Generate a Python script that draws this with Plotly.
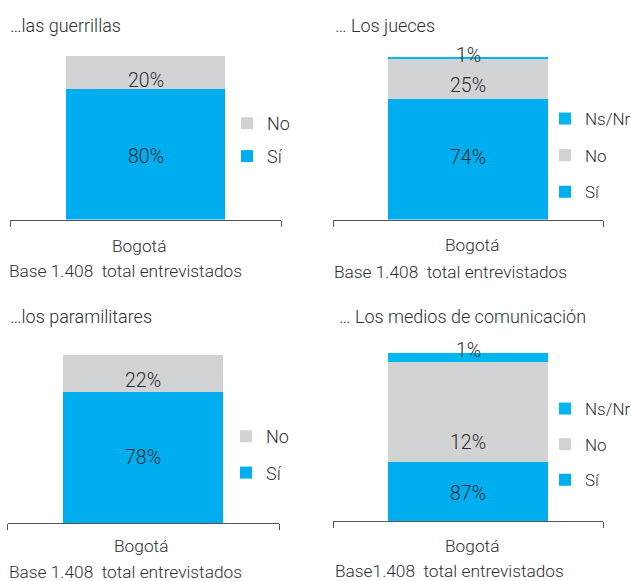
import plotly.graph_objects as go

# ---------------- data ----------------
categories = ["Bogotá"]
series_names = ["Sí", "No", "Ns/Nr"]

guerrillas_si = [80]
guerrillas_no = [20]

jueces_si = [74]
jueces_no = [25]
jueces_nsnr = [1]

paramilitares_si = [78]
paramilitares_no = [22]

# bar heights as drawn in the picture, and the printed labels
medios_si = [35]
medios_no = [59.5]
medios_nsnr = [5.5]
medios_labels = ["87%", "12%", "1%"]

titles = ["…las guerrillas", "… Los jueces", "…los paramilitares", "… Los medios de comunicación"]
base_texts = ["Base 1.408  total entrevistados", "Base 1.408  total entrevistados",
              "Base 1.408  total entrevistados", "Base1.408  total entrevistados"]

# ---------------- style ----------------
W, H = 631, 581
BLUE = "#00ADEE"
BLUE2 = "#00B7F0"
GRAY = "#D1D3D4"
TXT = "#2e2e2e"
AXC = "#555555"
FONT = "Roboto, 'Liberation Sans', Arial, sans-serif"
FS_TITLE = 18
FS_CAP = 17.3
FS_PCT = 19.5
WEIGHT = 300


def fx(px):
    return px / W


def fy(py):
    return 1 - py / H


def clamp(v):
    return min(1.0, max(0.0, v))


def font(size):
    return dict(size=size, color=TXT, family=FONT, weight=WEIGHT)


# per-panel layout in page pixels
panels = [
    dict(series=[(series_names[0], guerrillas_si, BLUE), (series_names[1], guerrillas_no, GRAY)],
         labels=None, ax=(10, 281), top=56, bottom=219.5, barw=0.59,
         title_xy=(8, 26), bog_xy=(139, 246), base_xy=(7, 271),
         legend_xy=(227, 105), legfs=18, gap=6.5, shifts=[-2, -8.5]),
    dict(series=[(series_names[0], jueces_si, BLUE), (series_names[1], jueces_no, GRAY),
                 (series_names[2], jueces_nsnr, BLUE2)],
         labels=None, ax=(333, 603), top=57, bottom=219.5, barw=0.596,
         title_xy=(333, 26), bog_xy=(472, 245), base_xy=(332, 272),
         legend_xy=(545, 101), legfs=17, gap=11.5, shifts=[2, -6.5, 2.5]),
    dict(series=[(series_names[0], paramilitares_si, BLUE), (series_names[1], paramilitares_no, GRAY)],
         labels=None, ax=(7.5, 279), top=355, bottom=523, barw=0.59,
         title_xy=(8, 316), bog_xy=(141, 546), base_xy=(7, 572),
         legend_xy=(226, 418), legfs=18, gap=10, shifts=[0, -7.5]),
    dict(series=[(series_names[0], medios_si, BLUE), (series_names[1], medios_no, GRAY),
                 (series_names[2], medios_nsnr, BLUE2)],
         labels=medios_labels, ax=(333, 603), top=353, bottom=521, barw=0.593,
         title_xy=(337, 316), bog_xy=(472, 546), base_xy=(333, 571),
         legend_xy=(545, 391), legfs=17, gap=10.5, shifts=[-1.5, -30, 7.5]),
]

fig = go.Figure()
annotations = []
layout = dict(
    width=W, height=H, margin=dict(l=0, r=0, t=0, b=0, pad=0, autoexpand=False),
    paper_bgcolor="white", plot_bgcolor="white",
    barmode="stack", showlegend=True,
    font=font(FS_TITLE),
)

for i, p in enumerate(panels):
    n = i + 1
    xa = "x" if n == 1 else f"x{n}"
    ya = "y" if n == 1 else f"y{n}"
    leg = "legend" if n == 1 else f"legend{n}"
    cum = 0
    nser = len(p["series"])
    for j, (name, vals, col) in enumerate(p["series"]):
        fig.add_trace(go.Bar(
            x=[0], y=vals, name=name, marker=dict(color=col, line=dict(width=0)),
            width=p["barw"], xaxis=xa, yaxis=ya, legend=leg,
            legendgroup=f"p{n}_{j}", legendrank=100 + (nser - j), showlegend=True,
            hoverinfo="skip",
        ))
        lab = p["labels"][j] if p["labels"] else f"{vals[0]:g}%"
        annotations.append(dict(
            x=0, y=cum + vals[0] / 2, xref=xa, yref=ya, text=lab, showarrow=False,
            yshift=p["shifts"][j], font=font(FS_PCT),
        ))
        cum += vals[0]

    layout["xaxis" if n == 1 else f"xaxis{n}"] = dict(
        domain=[clamp(fx(p["ax"][0])), clamp(fx(p["ax"][1]))], anchor=ya, range=[-0.5, 0.5],
        showline=True, linecolor=AXC, linewidth=1, showgrid=False, zeroline=False,
        tickmode="array", tickvals=[-0.5, 0.5], ticktext=["", ""],
        ticks="outside", ticklen=6, tickcolor=AXC, tickwidth=1, showticklabels=False,
        fixedrange=True, automargin=False,
    )
    layout["yaxis" if n == 1 else f"yaxis{n}"] = dict(
        domain=[clamp(fy(p["bottom"])), clamp(fy(p["top"]))], anchor=xa, range=[0, 100],
        visible=False, fixedrange=True, automargin=False,
    )
    layout[leg] = dict(
        x=fx(p["legend_xy"][0]), y=fy(p["legend_xy"][1]), xanchor="left", yanchor="top",
        traceorder="grouped", tracegroupgap=p["gap"],
        font=font(p["legfs"]), bgcolor="rgba(0,0,0,0)", borderwidth=0,
    )
    # titles and captions
    annotations.append(dict(x=fx(p["title_xy"][0]), y=fy(p["title_xy"][1]), xref="paper", yref="paper",
                            text=titles[i], showarrow=False, xanchor="left", yanchor="middle",
                            font=font(FS_TITLE)))
    annotations.append(dict(x=fx(p["bog_xy"][0]), y=fy(p["bog_xy"][1]), xref="paper", yref="paper",
                            text=categories[0], showarrow=False, xanchor="center", yanchor="middle",
                            font=font(FS_CAP)))
    annotations.append(dict(x=fx(p["base_xy"][0]), y=fy(p["base_xy"][1]), xref="paper", yref="paper",
                            text=base_texts[i], showarrow=False, xanchor="left", yanchor="middle",
                            font=font(FS_CAP)))

layout["annotations"] = annotations
fig.update_layout(**layout)
# page body has a default 8px margin; remove it so the figure fills the window exactly
fig.write_html("out.html", config={"displayModeBar": False},
               post_script="document.body.style.margin='0';")
